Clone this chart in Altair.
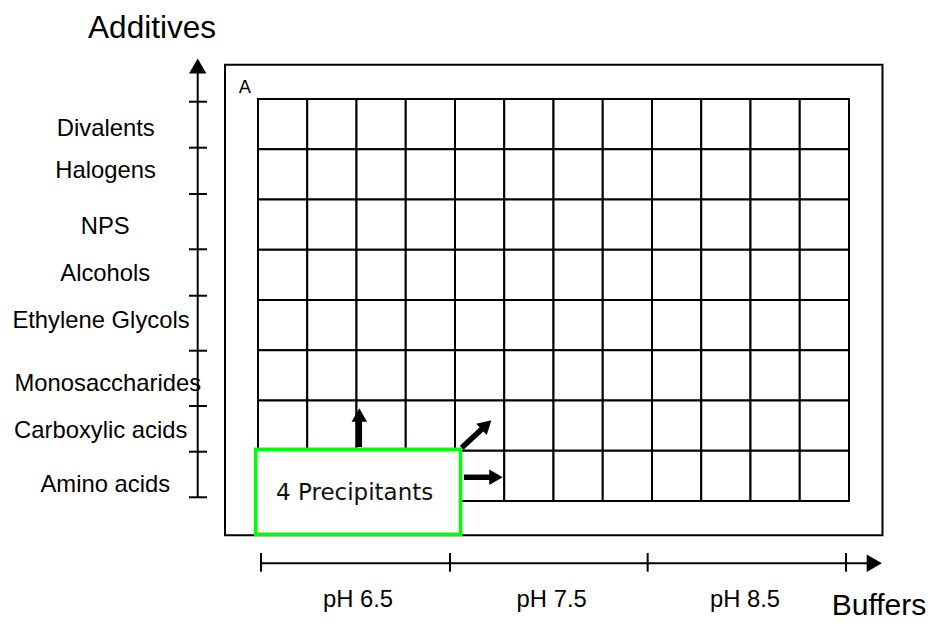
import altair as alt
import pandas as pd

# ---- plate layout (x unit = one well column, y unit = one well row, rows counted from top)
rows = list("ABCDEFGH")
cols = list(range(1, 13))

# ---- additive (vertical) axis
additives = ["Divalents", "Halogens", "NPS", "Alcohols", "Ethylene Glycols",
             "Monosaccharides", "Carboxylic acids", "Amino acids"]
additive_label_x = [-3.092, -3.096, -3.103, -3.101, -3.188, -3.050, -3.194, -3.101]
additive_label_y = [0.730, 1.566, 2.693, 3.616, 4.563, 5.805, 6.752, 7.827]
additive_ticks = [0.054, 0.969, 1.891, 2.991, 3.915, 5.009, 6.109, 7.019, 7.926]

# ---- buffer (horizontal) axis
buffers = ["pH 6.5", "pH 7.5", "pH 8.5"]
buffer_label_x = [2.030, 5.963, 9.888]
buffer_ticks = [0.061, 3.898, 7.912, 11.94]

# ---- annotations
frame_box = {"x": [-0.67], "x2": [12.68], "y": [-0.68], "y2": [8.68]}
precip_box = {"x": [-0.047], "x2": [4.112], "y": [6.971], "y2": [8.663]}
arrow_shafts = {"x": [2.057, 4.183, 4.136], "x2": [2.057, 4.832, 4.605],
                "y": [6.925, 7.528, 6.939], "y2": [6.290, 7.528, 6.515]}
arrow_heads = {"x": [2.057, 4.832, 4.605, -1.224, 12.513],
               "y": [6.290, 7.528, 6.515, -0.657, 9.240],
               "shape": ["triangle-up", "triangle-right", "triangle", "triangle-up", "triangle-right"],
               "angle": [0, 0, 47.4, 0, 0],
               "size": [240, 240, 240, 300, 306]}

W, H = 920, 615
xs = alt.Scale(domain=[-5.0761, 13.6041], nice=False, zero=False)
ys = alt.Scale(domain=[-1.8109, 10.4279], reverse=True, nice=False, zero=False)


def X(f):
    return alt.X(f, type="quantitative", scale=xs, axis=None)


def Y(f):
    return alt.Y(f, type="quantitative", scale=ys, axis=None)


wells = pd.DataFrame([{"row": r, "col": c, "x": c - 1, "x2": c, "y": i, "y2": i + 1}
                      for i, r in enumerate(rows) for c in cols])

frame = alt.Chart(pd.DataFrame(frame_box)).mark_rect(
    fill="white", stroke="black", strokeWidth=2
).encode(x=X("x"), x2="x2", y=Y("y"), y2="y2")

grid = alt.Chart(wells).mark_rect(
    fill="white", stroke="black", strokeWidth=2
).encode(x=X("x"), x2="x2", y=Y("y"), y2="y2")

green = alt.Chart(pd.DataFrame(precip_box)).mark_rect(
    fill="white", stroke="#00FF00", strokeWidth=3.5
).encode(x=X("x"), x2="x2", y=Y("y"), y2="y2")

shafts = alt.Chart(pd.DataFrame(arrow_shafts)).mark_rule(
    color="black", strokeWidth=5.5
).encode(x=X("x"), x2="x2", y=Y("y"), y2="y2")

heads = alt.Chart(pd.DataFrame(arrow_heads)).mark_point(
    filled=True, color="black", opacity=1, strokeWidth=0
).encode(
    x=X("x"), y=Y("y"),
    shape=alt.Shape("shape:N", scale=None),
    angle=alt.Angle("angle:Q", scale=None),
    size=alt.Size("size:Q", scale=None),
)

axis_lines = alt.Chart(pd.DataFrame({
    "x": [-1.224, 0.061], "x2": [-1.224, 12.513],
    "y": [7.926, 9.240], "y2": [-0.657, 9.240]
})).mark_rule(color="black", strokeWidth=2).encode(x=X("x"), x2="x2", y=Y("y"), y2="y2")

ytick_df = pd.DataFrame({"y": additive_ticks})
yticks = alt.Chart(ytick_df).mark_rule(color="black", strokeWidth=2).encode(
    x=X("x0"), x2="x1", y=Y("y")
).transform_calculate(x0="-1.401", x1="-1.036")

xtick_df = pd.DataFrame({"x": buffer_ticks})
xticks = alt.Chart(xtick_df).mark_rule(color="black", strokeWidth=2).encode(
    x=X("x"), y=Y("y0"), y2="y1"
).transform_calculate(y0="9.035", y1="9.407")

add_labels = alt.Chart(pd.DataFrame({
    "label": additives, "x": additive_label_x, "y": additive_label_y
})).mark_text(align="center", baseline="alphabetic", font="Liberation Sans",
              fontSize=23.8, color="black").encode(x=X("x"), y=Y("y"), text="label:N")

buf_labels = alt.Chart(pd.DataFrame({
    "label": buffers, "x": buffer_label_x, "y": [10.109] * len(buffers)
})).mark_text(align="center", baseline="alphabetic", font="Liberation Sans",
              fontSize=23.8, color="black").encode(x=X("x"), y=Y("y"), text="label:N")

titles = alt.Chart(pd.DataFrame({
    "label": ["Additives", "Buffers"], "x": [-2.152, 12.609], "y": [-1.208, 10.27],
    "size": [31.5, 30]
})).mark_text(align="center", baseline="alphabetic", font="Liberation Sans",
              color="black").encode(x=X("x"), y=Y("y"), text="label:N",
                                    size=alt.Size("size:Q", scale=None))

row_label = alt.Chart(pd.DataFrame({"label": [rows[0]], "x": [-0.264], "y": [-0.113]})).mark_text(
    align="center", baseline="alphabetic", font="DejaVu Sans", fontSize=18,
    color="black"
).encode(x=X("x"), y=Y("y"), text="label:N")

precip_label = alt.Chart(pd.DataFrame({"label": ["4 Precipitants"], "x": [1.963], "y": [7.990]})).mark_text(
    align="center", baseline="alphabetic", font="DejaVu Sans", fontSize=23, color="#111111"
).encode(x=X("x"), y=Y("y"), text="label:N")

chart = alt.layer(
    frame, grid, green, shafts, heads, axis_lines, yticks, xticks,
    add_labels, buf_labels, titles, row_label, precip_label
).properties(
    width=W, height=H, padding=0, autosize=alt.AutoSizeParams(type="none")
).configure_view(strokeWidth=0)

chart.save("out.html", embed_options={"renderer": "svg", "actions": False})
